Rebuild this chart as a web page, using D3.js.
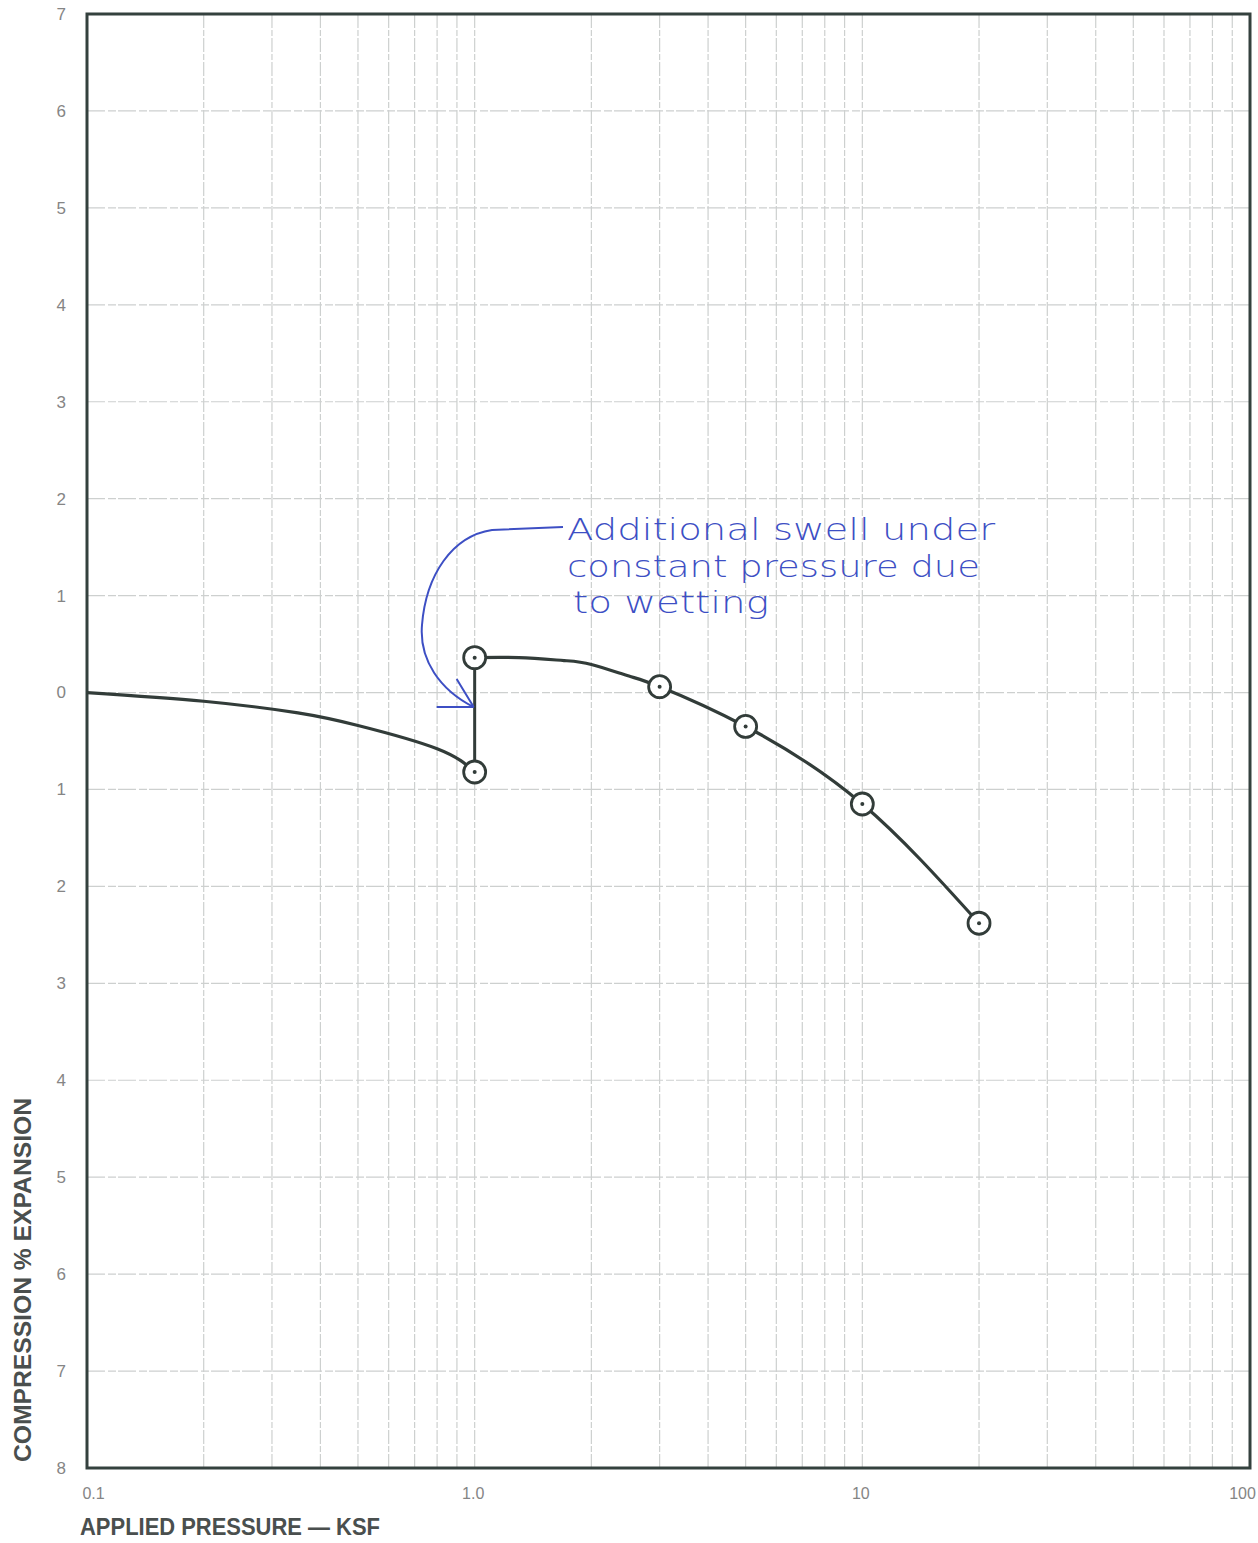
<!DOCTYPE html>
<html>
<head>
<meta charset="utf-8">
<script src="https://cdn.jsdelivr.net/npm/d3@7"></script>
<style>
  html, body { margin: 0; padding: 0; background: #ffffff; }
  svg { display: block; }
</style>
</head>
<body>
<svg id="chart" width="1258" height="1543"></svg>
<script>
// Swell / consolidation test: % expansion (+) or compression (-) vs applied pressure (ksf)
const xTicks = [0.1, 1, 10, 100];
const xTickLabels = ["0.1", "1.0", "10", "100"];
const yTicks = [7, 6, 5, 4, 3, 2, 1, 0, -1, -2, -3, -4, -5, -6, -7, -8];

// loading before wetting (dry sample)
const dryPressure = [0.1, 0.2, 0.35, 0.5, 0.8, 1.0];
const dryStrain   = [0.0, -0.09, -0.21, -0.34, -0.58, -0.82];

// swell at constant pressure after wetting
const wetPressure = [1.0, 1.0];
const wetStrain   = [-0.82, 0.36];

// loading after wetting
const loadPressure = [1.0, 1.3, 1.7, 2.0, 2.5, 3.0, 5.0, 10.0, 20.0];
const loadStrain   = [0.36, 0.36, 0.33, 0.29, 0.17, 0.06, -0.35, -1.15, -2.38];

// measured readings (circled)
const readPressure = [1.0, 1.0, 3.0, 5.0, 10.0, 20.0];
const readStrain   = [-0.82, 0.36, 0.06, -0.35, -1.15, -2.38];

const noteLines = ["Additional swell under", "constant pressure due", "to wetting"];

const svg = d3.select("#chart");
const frame = { left: 87, right: 1250, top: 14, bottom: 1468 };

const x = d3.scaleLog().domain([0.1, 100]).range([frame.left, frame.right]);
const y = d3.scaleLinear().domain([-8, 7]).range([frame.bottom, frame.top]);

// grid: every integer on y, 1..9 per decade on x
const gridColor = "#cdd0cf";
const g = svg.append("g");
const xGrid = [];
for (let dec = 0.1; dec < 100; dec *= 10) {
  for (let k = 1; k <= 9; k++) xGrid.push(+(dec * k).toPrecision(3));
}
g.selectAll("line.vx").data(xGrid.filter(v => v > 0.1)).join("line")
  .attr("x1", d => x(d)).attr("x2", d => x(d))
  .attr("y1", frame.top).attr("y2", frame.bottom)
  .attr("stroke", gridColor).attr("stroke-width", 1.2)
  .attr("stroke-dasharray", "14,2,6,2");
g.selectAll("line.hy").data(yTicks.filter(v => v !== 7 && v !== -8)).join("line")
  .attr("x1", frame.left).attr("x2", frame.right)
  .attr("y1", d => y(d)).attr("y2", d => y(d))
  .attr("stroke", gridColor).attr("stroke-width", 1.2)
  .attr("stroke-dasharray", "18,3,8,2");

// frame
svg.append("rect")
  .attr("x", frame.left).attr("y", frame.top)
  .attr("width", frame.right - frame.left).attr("height", frame.bottom - frame.top)
  .attr("fill", "none").attr("stroke", "#34413e").attr("stroke-width", 3);

// axes
const yAxis = d3.axisLeft(y).tickValues(yTicks).tickSize(0).tickPadding(21)
  .tickFormat(d => String(Math.abs(d)));
const ya = svg.append("g").attr("transform", `translate(${frame.left},0)`).call(yAxis);
ya.select(".domain").remove();
ya.selectAll("text").attr("font-family", "Liberation Sans, Arial, sans-serif")
  .attr("font-size", 17).attr("fill", "#858585");

const xAxis = d3.axisBottom(x).tickValues(xTicks).tickSize(0).tickPadding(20)
  .tickFormat((d, i) => xTickLabels[i]);
const xa = svg.append("g").attr("transform", `translate(0,${frame.bottom})`).call(xAxis);
xa.select(".domain").remove();
xa.selectAll("text").attr("font-family", "Liberation Sans, Arial, sans-serif")
  .attr("font-size", 16).attr("fill", "#858585")
  .attr("dx", (d, i) => i === 0 ? 6 : (i === 3 ? -8 : -2));

// axis titles
svg.append("text")
  .attr("x", 80).attr("y", 1535)
  .attr("font-family", "Liberation Sans, Arial, sans-serif")
  .attr("font-weight", "bold").attr("font-size", 23).attr("fill", "#4a4f4e")
  .attr("textLength", 300).attr("lengthAdjust", "spacingAndGlyphs")
  .text("APPLIED PRESSURE — KSF");

svg.append("text")
  .attr("transform", "translate(31,1462) rotate(-90)")
  .attr("font-family", "Liberation Sans, Arial, sans-serif")
  .attr("font-weight", "bold").attr("font-size", 23).attr("fill", "#4a4f4e")
  .attr("textLength", 364).attr("lengthAdjust", "spacingAndGlyphs")
  .text("COMPRESSION % EXPANSION");

// curves (smooth spline through the readings)
const lineColor = "#323c39";
const line = d3.line().x(d => x(d[0])).y(d => y(d[1])).curve(d3.curveNatural);
const segLine = d3.line().x(d => x(d[0])).y(d => y(d[1]));

svg.append("path").datum(d3.zip(dryPressure, dryStrain)).attr("d", line)
  .attr("fill", "none").attr("stroke", lineColor).attr("stroke-width", 3.2);
svg.append("path").datum(d3.zip(wetPressure, wetStrain)).attr("d", segLine)
  .attr("fill", "none").attr("stroke", lineColor).attr("stroke-width", 3);
svg.append("path").datum(d3.zip(loadPressure, loadStrain)).attr("d", line)
  .attr("fill", "none").attr("stroke", lineColor).attr("stroke-width", 3.2);

// circled readings
const pts = svg.append("g").selectAll("g").data(d3.zip(readPressure, readStrain)).join("g")
  .attr("transform", d => `translate(${x(d[0])},${y(d[1])})`);
pts.append("circle").attr("r", 11).attr("fill", "#ffffff")
  .attr("stroke", lineColor).attr("stroke-width", 2.8);
pts.append("circle").attr("r", 2).attr("fill", lineColor);

// handwritten note with arrow
const blue = "#3d4fc4";
const tipX = x(1.0), tipY = y(-0.15);
svg.append("path")
  .attr("d", `M563,527 L492,530 C452,536 426,575 422,625 C419,660 440,690 ${tipX - 1},${tipY}`)
  .attr("fill", "none").attr("stroke", blue).attr("stroke-width", 2);
svg.append("path")
  .attr("d", `M${tipX - 18},${tipY - 28} L${tipX - 1},${tipY} M${tipX - 38},${tipY} L${tipX - 1},${tipY}`)
  .attr("fill", "none").attr("stroke", blue).attr("stroke-width", 2);

const noteX = [567, 567, 573];
const noteY = [540, 577, 613];
const noteW = [428, 413, 196];
svg.append("g").selectAll("text").data(noteLines).join("text")
  .attr("x", (d, i) => noteX[i]).attr("y", (d, i) => noteY[i])
  .attr("textLength", (d, i) => noteW[i]).attr("lengthAdjust", "spacingAndGlyphs")
  .attr("font-family", "DejaVu Sans, sans-serif").attr("font-size", 30)
  .attr("font-weight", 300).attr("fill", blue)
  .text(d => d);
</script>
</body>
</html>
